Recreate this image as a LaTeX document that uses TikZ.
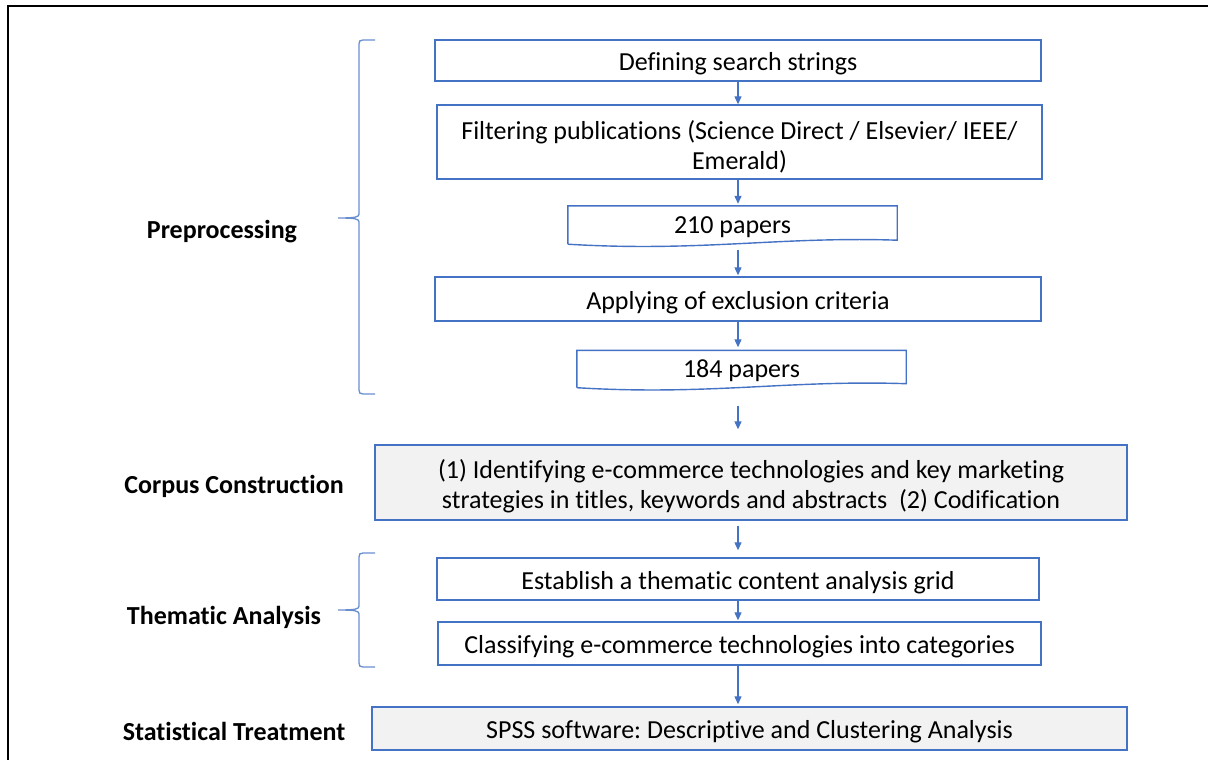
\documentclass[tikz,border=0pt]{standalone}
\usepackage{fontspec}
\setmainfont{Carlito}[Ligatures=NoCommon]
\frenchspacing
\usetikzlibrary{arrows.meta,calc}
\definecolor{oblue}{HTML}{4472C4}
\definecolor{ogray}{HTML}{F2F2F2}
\begin{document}
\begin{tikzpicture}[x=1pt,y=-1pt,
  txt/.style={inner sep=0pt, align=center, font=\fontsize{26}{30}\selectfont,
    execute at begin node={\rule{0pt}{25pt}}},
  box/.style={txt, draw=oblue, line width=1.4pt},
  graybox/.style={box, fill=ogray},
  doc/.style={txt},
  docline/.style={draw=oblue, line width=1.4pt, line join=miter},
  lab/.style={txt, font=\fontsize{26}{30}\selectfont\bfseries},
  conn/.style={draw=oblue, line width=1.2pt, -{Triangle[width=7pt,length=8pt]}},
  bracket/.style={draw=oblue!80, line width=1.3pt}]
\useasboundingbox (0,0) rectangle (1208,760);
% frame
\draw[line width=2.2pt, black] (8,760) -- (8,6) -- (1208,6);

% boxes
\node[box, minimum width=606pt, minimum height=41pt] (b1) at (738,60.5) {Defining search strings};
\node[box, minimum width=605pt, minimum height=74pt] (b2) at (739.5,142)
  {\rule{0pt}{29pt}Filtering publications (Science Direct / Elsevier/ IEEE/\\Emerald)};
\node[doc, minimum width=329pt, minimum height=34pt] (p210) at (732.5,223) {210 papers};
\node[box, minimum width=606pt, minimum height=44pt] (b4) at (738,299) {Applying of exclusion criteria};
\node[doc, minimum width=329pt, minimum height=33pt] (p184) at (741.5,367) {184 papers};
\node[graybox, minimum width=752pt, minimum height=75pt] (b6) at (751,482.5)
  {\rule{0pt}{27pt}(1) Identifying e-commerce technologies and key marketing\\strategies in titles, keywords and abstracts\ \ (2) Codification};
\node[box, minimum width=602pt, minimum height=42pt] (b7) at (738,579) {Establish a thematic content analysis grid};
\node[box, minimum width=603pt, minimum height=43pt] (b8) at (739.5,643.5) {Classifying e-commerce technologies into categories};
\node[graybox, minimum width=755pt, minimum height=43pt] (b9) at (749.5,728.5) {SPSS software: Descriptive and Clustering Analysis};

% document shapes
\draw[docline] ($(p210.south west)+(0,4)$) -- (p210.north west) -- (p210.north east) -- (p210.south east)
  .. controls +(-117,-4) and ($(p210.south west)+(132,12)$) .. ($(p210.south west)+(0,4)$);
\draw[docline] ($(p184.south west)+(0,4)$) -- (p184.north west) -- (p184.north east) -- (p184.south east)
  .. controls +(-117,-4) and ($(p184.south west)+(132,12)$) .. ($(p184.south west)+(0,4)$);

% labels
\node[lab] (l1) at (222,228) {Preprocessing};
\node[lab] (l2) at (234,483) {Corpus Construction};
\node[lab] (l3) at (224,614) {Thematic Analysis};
\node[lab] (l4) at (234,728) {Statistical Treatment};

% connectors
\draw[conn] (b1.south) -- (b1.south |- b2.north);
\draw[conn, shorten >=2pt] (b2.south -| b1.south) -- (p210.north -| b1.south);
\draw[conn, shorten <=10pt, shorten >=1pt] (p210.south -| b1.south) -- (b4.north -| b1.south);
\draw[conn, shorten >=3pt] (b4.south -| b1.south) -- (p184.north -| b1.south);
\draw[conn, shorten <=22pt, shorten >=15pt] (p184.south -| b1.south) -- (b6.north -| b1.south);
\draw[conn, shorten <=5pt, shorten >=7pt] (b6.south -| b1.south) -- (b7.north -| b1.south);
\draw[conn, shorten >=1pt] (b7.south -| b1.south) -- (b8.north -| b1.south);
\draw[conn, shorten >=2pt] (b8.south -| b1.south) -- (b9.north -| b1.south);

% braces
\draw[bracket] (375,40) -- (363,40) .. controls (360,40) and (359,41) .. (359,44) -- (359,214)
  .. controls (359,217) and (356,218) .. (338,218)
  .. controls (356,218) and (359,219) .. (359,222) -- (359,390)
  .. controls (359,393) and (360,394) .. (363,394) -- (375,394);
\draw[bracket] (375,553) -- (363,553) .. controls (360,553) and (359,554) .. (359,557) -- (359,606)
  .. controls (359,609) and (356,610) .. (338,610)
  .. controls (356,610) and (359,611) .. (359,614) -- (359,663)
  .. controls (359,666) and (360,667) .. (363,667) -- (375,667);
\end{tikzpicture}
\end{document}
